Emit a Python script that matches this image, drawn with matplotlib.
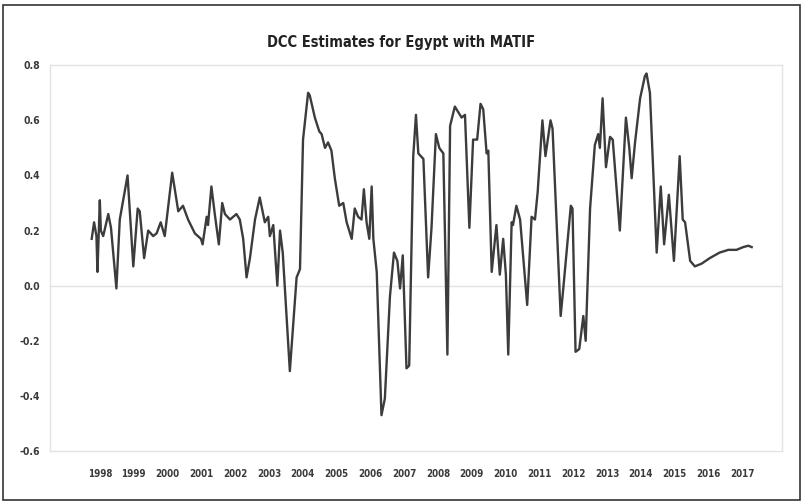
import matplotlib
matplotlib.use("Agg")
import matplotlib.pyplot as plt
from matplotlib.patches import Rectangle

# DCC estimates (decimal year, value)
years = [
    1997.76, 1997.83, 1997.90, 1997.93, 1998.00, 1998.03, 1998.10, 1998.25, 1998.33, 1998.49,
    1998.59, 1998.82, 1998.99, 1999.12, 1999.18, 1999.31, 1999.43, 1999.58, 1999.68, 1999.80,
    1999.92, 2000.14, 2000.32, 2000.46, 2000.61, 2000.81, 2000.99, 2001.04, 2001.16, 2001.20,
    2001.30, 2001.40, 2001.52, 2001.62, 2001.70, 2001.85, 2002.04, 2002.14, 2002.24, 2002.34,
    2002.44, 2002.59, 2002.73, 2002.88, 2002.98, 2003.03, 2003.13, 2003.25, 2003.33, 2003.41,
    2003.62, 2003.82, 2003.92, 2004.01, 2004.16, 2004.21, 2004.36, 2004.49, 2004.56, 2004.66,
    2004.75, 2004.85, 2004.95, 2005.08, 2005.20, 2005.30, 2005.45, 2005.54, 2005.64, 2005.74,
    2005.81, 2005.89, 2005.97, 2006.04, 2006.09, 2006.19, 2006.33, 2006.43, 2006.58, 2006.70,
    2006.80, 2006.88, 2006.96, 2007.07, 2007.15, 2007.27, 2007.35, 2007.42, 2007.57, 2007.71,
    2007.81, 2007.94, 2008.04, 2008.16, 2008.28, 2008.36, 2008.50, 2008.60, 2008.70, 2008.80,
    2008.93, 2009.04, 2009.16, 2009.26, 2009.34, 2009.44, 2009.49, 2009.59, 2009.73, 2009.83,
    2009.93, 2010.01, 2010.08, 2010.18, 2010.22, 2010.32, 2010.43, 2010.64, 2010.77, 2010.87,
    2010.95, 2011.09, 2011.18, 2011.33, 2011.39, 2011.63, 2011.70, 2011.93, 2011.98, 2012.07,
    2012.18, 2012.30, 2012.37, 2012.50, 2012.64, 2012.74, 2012.79, 2012.87, 2012.97, 2013.09,
    2013.17, 2013.38, 2013.56, 2013.66, 2013.73, 2013.83, 2013.98, 2014.12, 2014.17, 2014.27,
    2014.47, 2014.59, 2014.69, 2014.83, 2014.98, 2015.15, 2015.24, 2015.31, 2015.46, 2015.60,
    2015.80, 2016.04, 2016.33, 2016.59, 2016.83, 2017.03, 2017.18, 2017.28,
]
dcc = [
    0.17, 0.23, 0.18, 0.05, 0.31, 0.20, 0.18, 0.26, 0.21, -0.01,
    0.24, 0.40, 0.07, 0.28, 0.27, 0.10, 0.20, 0.18, 0.19, 0.23,
    0.18, 0.41, 0.27, 0.29, 0.24, 0.19, 0.17, 0.15, 0.25, 0.22,
    0.36, 0.26, 0.15, 0.30, 0.26, 0.24, 0.26, 0.24, 0.17, 0.03,
    0.10, 0.24, 0.32, 0.23, 0.25, 0.18, 0.22, 0.00, 0.20, 0.12,
    -0.31, 0.03, 0.06, 0.53, 0.70, 0.69, 0.61, 0.56, 0.55, 0.50,
    0.52, 0.49, 0.39, 0.29, 0.30, 0.23, 0.17, 0.28, 0.25, 0.24,
    0.35, 0.23, 0.17, 0.36, 0.17, 0.05, -0.47, -0.41, -0.04, 0.12,
    0.09, -0.01, 0.11, -0.30, -0.29, 0.47, 0.62, 0.48, 0.46, 0.03,
    0.21, 0.55, 0.50, 0.48, -0.25, 0.58, 0.65, 0.63, 0.61, 0.62,
    0.21, 0.53, 0.53, 0.66, 0.64, 0.48, 0.49, 0.05, 0.22, 0.04,
    0.17, 0.04, -0.25, 0.23, 0.22, 0.29, 0.24, -0.07, 0.25, 0.24,
    0.34, 0.60, 0.47, 0.60, 0.57, -0.11, -0.02, 0.29, 0.28, -0.24,
    -0.23, -0.11, -0.20, 0.28, 0.51, 0.55, 0.50, 0.68, 0.43, 0.54,
    0.53, 0.20, 0.61, 0.50, 0.39, 0.52, 0.68, 0.76, 0.77, 0.70,
    0.12, 0.36, 0.15, 0.33, 0.09, 0.47, 0.24, 0.23, 0.09, 0.07,
    0.08, 0.10, 0.12, 0.13, 0.13, 0.14, 0.145, 0.14,
]
tick_years = list(range(1998, 2018))
y_ticks = [0.8, 0.6, 0.4, 0.2, 0.0, -0.2, -0.4, -0.6]

TXT = dict(fontfamily="DejaVu Sans", fontstretch="condensed", fontweight="bold")

fig = plt.figure(figsize=(8.03, 5.01), dpi=100)
ax = fig.add_axes([0.062, 0.0998, 0.912, 0.770])

ax.plot(years, dcc, color="#3c3c3c", lw=1.7, solid_joinstyle="round")
ax.axhline(0, color="#e3e3e3", lw=1.0, zorder=0)

ax.set_xlim(1996.52, 2018.18)
ax.set_ylim(-0.6, 0.8)
ax.set_xticks(tick_years)
ax.set_xticklabels([str(y) for y in tick_years], fontsize=7, color="#3a3a3a", **TXT)
ax.set_yticks(y_ticks)
ax.set_yticklabels([f"{v:.1f}" for v in y_ticks], fontsize=7.5, color="#3a3a3a", **TXT)
ax.tick_params(axis="both", length=0)
ax.tick_params(axis="x", pad=13)
ax.tick_params(axis="y", pad=7)

for s in ax.spines.values():
    s.set_color("#e3e3e3")
    s.set_linewidth(1.0)

fig.text(0.5, 1 - 42 / 501, "DCC Estimates for Egypt with MATIF", fontsize=10.5,
         color="#222222", ha="center", va="center", **TXT)

# outer frame around the picture
fig.patches.append(Rectangle((3 / 803, 1 / 501), 797 / 803, 495 / 501,
                             transform=fig.transFigure, fill=False,
                             edgecolor="#333333", lw=1.2))

fig.savefig("out.png", dpi=100)
